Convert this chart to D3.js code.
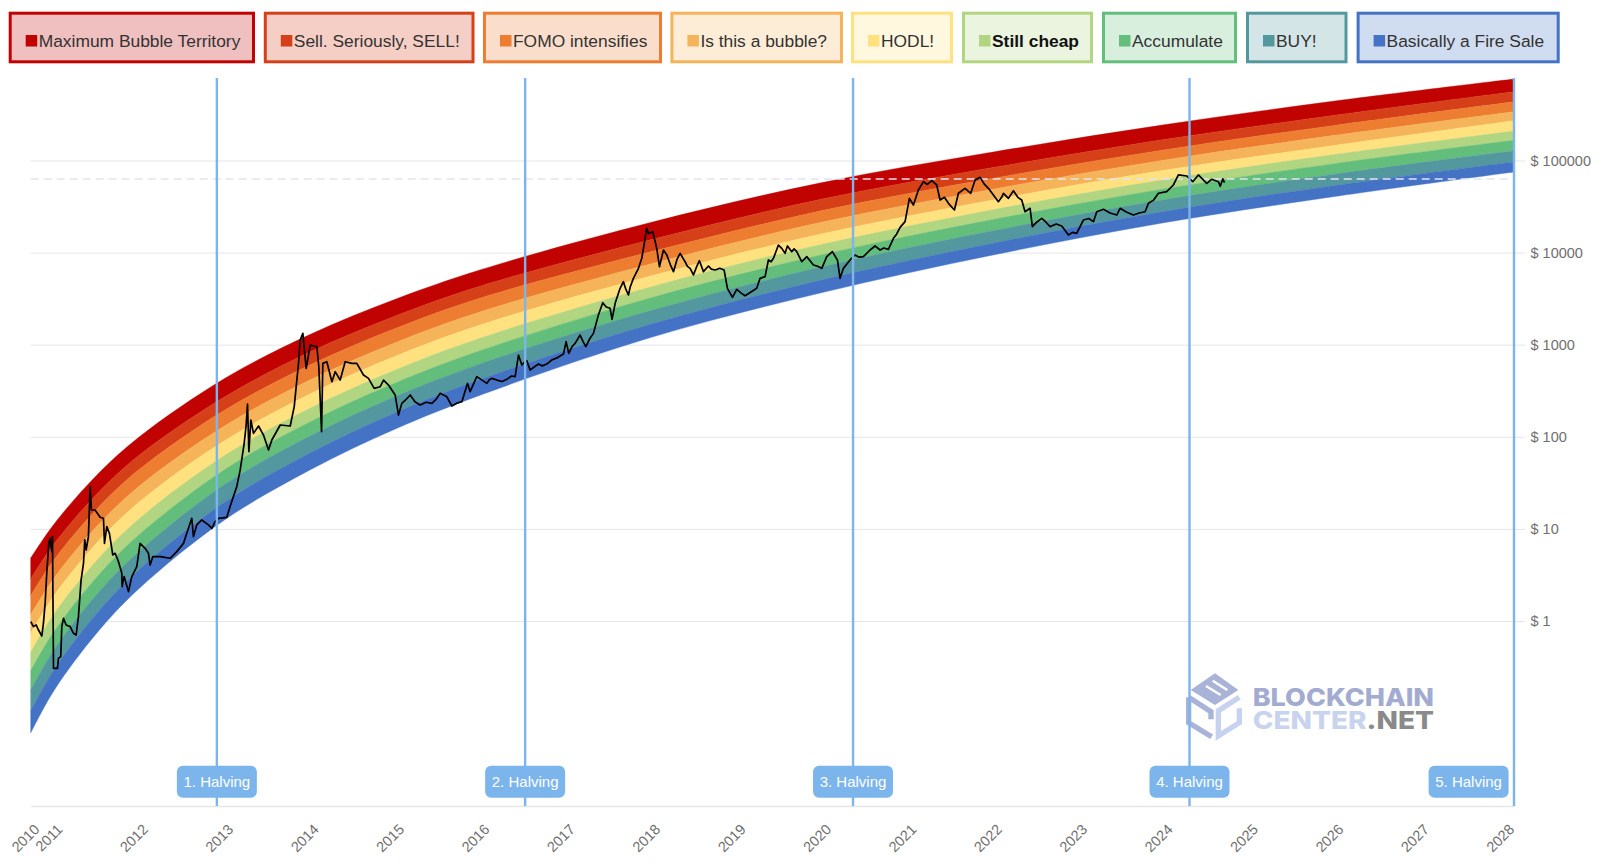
<!DOCTYPE html>
<html>
<head>
<meta charset="utf-8">
<title>Bitcoin Rainbow Chart</title>
<script src="https://cdn.jsdelivr.net/npm/d3@7"></script>
<style>
  body { margin: 0; background: #fff; font-family: "Liberation Sans", Arial, sans-serif; }
  svg { display: block; }
  .grid line { stroke: #e6e6e6; }
  .grid text, .years text { fill: #6f6f6f; font-size: 14.5px; }
</style>
</head>
<body>
<svg></svg>
<script>
//legend text and band colours, top band first
var bandNames = ["Maximum Bubble Territory", "Sell. Seriously, SELL!", "FOMO intensifies", "Is this a bubble?", "HODL!", "Still cheap", "Accumulate", "BUY!", "Basically a Fire Sale"];
var bandColors = ["#c00200", "#d64018", "#ed7d31", "#f6b45a", "#ffe27f", "#b1d580", "#63be7b", "#54989f", "#4472c4"];

var yearTicks = [2010.73, 2011, 2012, 2013, 2014, 2015, 2016, 2017, 2018, 2019, 2020, 2021, 2022, 2023, 2024, 2025, 2026, 2027, 2028];
var priceTicks = [1, 10, 100, 1000, 10000, 100000];

var halvingNames = ["1. Halving", "2. Halving", "3. Halving", "4. Halving", "5. Halving"];
var halvingYears = [2012.91, 2016.52, 2020.36, 2024.30, 2028.10];
var dashedPrice = 63000;

//band edges as log10 of the dollar price
var bandYears = [2010.73, 2011, 2011.5, 2012, 2013, 2014, 2015, 2016, 2018, 2020, 2022, 2024, 2026, 2028.1];
var edge0 = [0.684, 1.049, 1.580, 1.998, 2.633, 3.111, 3.494, 3.814, 4.329, 4.761, 5.092, 5.387, 5.646, 5.885];
var edge1 = [0.456, 0.832, 1.374, 1.800, 2.433, 2.920, 3.311, 3.637, 4.141, 4.582, 4.924, 5.227, 5.491, 5.747];
var edge2 = [0.276, 0.660, 1.211, 1.644, 2.288, 2.780, 3.177, 3.508, 4.011, 4.456, 4.807, 5.115, 5.381, 5.637];
var edge3 = [0.066, 0.461, 1.022, 1.464, 2.118, 2.618, 3.022, 3.358, 3.879, 4.331, 4.689, 5.004, 5.273, 5.530];
var edge4 = [-0.134, 0.271, 0.843, 1.291, 1.957, 2.464, 2.874, 3.216, 3.748, 4.205, 4.572, 4.893, 5.164, 5.432];
var edge5 = [-0.342, 0.072, 0.654, 1.110, 1.796, 2.309, 2.726, 3.073, 3.630, 4.091, 4.466, 4.792, 5.065, 5.321];
var edge6 = [-0.542, -0.118, 0.473, 0.937, 1.642, 2.162, 2.585, 2.937, 3.511, 3.978, 4.359, 4.691, 4.966, 5.220];
var edge7 = [-0.750, -0.317, 0.284, 0.756, 1.481, 2.008, 2.437, 2.794, 3.373, 3.847, 4.237, 4.573, 4.852, 5.105];
var edge8 = [-0.978, -0.534, 0.078, 0.558, 1.289, 1.823, 2.261, 2.624, 3.224, 3.704, 4.102, 4.446, 4.729, 4.985];
var edge9 = [-1.216, -0.760, -0.136, 0.353, 1.097, 1.640, 2.085, 2.454, 3.080, 3.566, 3.974, 4.324, 4.609, 4.875];
var bandEdges = [edge0, edge1, edge2, edge3, edge4, edge5, edge6, edge7, edge8, edge9];

//black price line, also log10 of the dollar price
var priceYears = [
  2010.731, 2010.762, 2010.794, 2010.821, 2010.860, 2010.879, 2010.899, 2010.918, 2010.942, 2010.957, 2010.977, 2010.985, 2010.997,
  2011.043, 2011.055, 2011.082, 2011.094, 2011.114, 2011.145, 2011.192, 2011.231, 2011.262, 2011.289, 2011.320, 2011.348, 2011.363, 2011.379, 2011.406, 2011.426, 2011.441, 2011.484, 2011.543, 2011.582, 2011.594, 2011.621, 2011.652, 2011.691, 2011.719, 2011.758, 2011.797, 2011.801, 2011.824, 2011.875, 2011.914, 2011.972,
  2012.011, 2012.070, 2012.109, 2012.128, 2012.160, 2012.246, 2012.363, 2012.441, 2012.519, 2012.558, 2012.616, 2012.636, 2012.675, 2012.733, 2012.812, 2012.851, 2012.890, 2012.929,
  2013.026, 2013.065, 2013.143, 2013.183, 2013.230, 2013.253, 2013.269, 2013.285, 2013.308, 2013.339, 2013.398, 2013.456, 2013.515, 2013.554, 2013.652, 2013.769, 2013.816, 2013.866, 2013.886, 2013.917, 2013.956,
  2014.003, 2014.081, 2014.104, 2014.136, 2014.151, 2014.198, 2014.257, 2014.296, 2014.354, 2014.413, 2014.491, 2014.549, 2014.627, 2014.686, 2014.752, 2014.823, 2014.862, 2014.920, 2014.998,
  2015.037, 2015.076, 2015.12, 2015.174, 2015.23, 2015.291, 2015.36, 2015.428, 2015.48, 2015.525, 2015.603, 2015.662, 2015.72, 2015.779, 2015.845, 2015.876, 2015.954,
  2016.072, 2016.100, 2016.130, 2016.189, 2016.25, 2016.306, 2016.36, 2016.403, 2016.442, 2016.481, 2016.51, 2016.539, 2016.578, 2016.63, 2016.676, 2016.72, 2016.773, 2016.832, 2016.90, 2016.969,
  2017.000, 2017.031, 2017.07, 2017.105, 2017.164, 2017.20, 2017.230, 2017.28, 2017.320, 2017.378, 2017.429, 2017.47, 2017.515, 2017.538, 2017.574, 2017.632, 2017.671, 2017.70, 2017.730, 2017.749, 2017.788, 2017.847, 2017.886, 2017.944, 2017.964,
  2018.015, 2018.04, 2018.061, 2018.093, 2018.14, 2018.179, 2018.22, 2018.257, 2018.30, 2018.335, 2018.393, 2018.42, 2018.452, 2018.491, 2018.53, 2018.561, 2018.608, 2018.667, 2018.70, 2018.745, 2018.80, 2018.850, 2018.889, 2018.92, 2018.948, 2018.998,
  2019.05, 2019.096, 2019.16, 2019.232, 2019.271, 2019.330, 2019.369, 2019.40, 2019.428, 2019.486, 2019.525, 2019.564, 2019.592, 2019.642, 2019.67, 2019.701, 2019.759, 2019.79, 2019.818, 2019.896, 2019.95, 2019.994,
  2020.052, 2020.118, 2020.177, 2020.208, 2020.247, 2020.325, 2020.384, 2020.43, 2020.481, 2020.559, 2020.618, 2020.677, 2020.72, 2020.774, 2020.833, 2020.87, 2020.911, 2020.969,
  2021.020, 2021.067, 2021.125, 2021.184, 2021.23, 2021.282, 2021.340, 2021.379, 2021.43, 2021.477, 2021.547, 2021.594, 2021.672, 2021.738, 2021.789, 2021.848, 2021.90, 2021.945,
  2022.062, 2022.10, 2022.121, 2022.179, 2022.238, 2022.29, 2022.335, 2022.374, 2022.433, 2022.460, 2022.51, 2022.570, 2022.62, 2022.667, 2022.74, 2022.804, 2022.882, 2022.93, 2022.979,
  2023.058, 2023.12, 2023.175, 2023.214, 2023.292, 2023.37, 2023.448, 2023.487, 2023.56, 2023.643, 2023.71, 2023.780, 2023.819, 2023.88, 2023.936,
  2024.033, 2024.111, 2024.170, 2024.268, 2024.338, 2024.404, 2024.502, 2024.560, 2024.638, 2024.660, 2024.690, 2024.710
];
var priceLogs = [
  -0.007, -0.061, -0.043, -0.098, -0.163, -0.025, 0.192, 0.518, 0.843, 0.898, 0.753, 0.916, -0.514,
  -0.514, -0.405, -0.387, -0.061, 0.029, -0.043, -0.061, -0.134, -0.152, 0.047, 0.445, 0.626, 0.880, 0.771, 0.916, 1.459, 1.205, 1.205, 1.126, 1.115, 0.843, 1.024, 0.952, 0.717, 0.735, 0.644, 0.518, 0.373, 0.482, 0.319, 0.482, 0.590,
  0.843, 0.789, 0.735, 0.608, 0.699, 0.699, 0.681, 0.753, 0.843, 0.952, 1.115, 0.916, 1.043, 1.097, 1.043, 1.006, 1.079, 1.115,
  1.126, 1.242, 1.459, 1.639, 1.929, 2.128, 2.356, 1.838, 2.182, 2.037, 2.117, 2.019, 1.856, 1.965, 2.128, 2.117, 2.327, 2.797, 3.051, 3.123, 2.743,
  2.996, 2.978, 2.761, 2.055, 2.797, 2.815, 2.598, 2.707, 2.616, 2.815, 2.797, 2.797, 2.671, 2.634, 2.526, 2.544, 2.616, 2.562, 2.454,
  2.236, 2.363, 2.40, 2.454, 2.38, 2.345, 2.375, 2.363, 2.41, 2.472, 2.435, 2.334, 2.365, 2.381, 2.580, 2.490, 2.653,
  2.580, 2.62, 2.634, 2.616, 2.60, 2.624, 2.66, 2.653, 2.888, 2.779, 2.81, 2.827, 2.725, 2.76, 2.790, 2.77, 2.790, 2.834, 2.86, 2.899,
  3.033, 2.906, 2.98, 3.015, 3.105, 3.03, 2.979, 3.07, 3.123, 3.322, 3.456, 3.41, 3.395, 3.275, 3.449, 3.612, 3.684, 3.60, 3.540, 3.623, 3.720, 3.829, 3.938, 4.263, 4.209,
  4.227, 4.13, 4.046, 3.847, 4.028, 3.974, 3.87, 3.793, 3.93, 3.992, 3.901, 3.85, 3.829, 3.757, 3.85, 3.912, 3.793, 3.854, 3.82, 3.811, 3.83, 3.811, 3.612, 3.56, 3.514, 3.601,
  3.56, 3.532, 3.57, 3.612, 3.720, 3.739, 3.920, 3.90, 3.938, 4.082, 4.046, 3.992, 4.072, 4.010, 4.04, 4.010, 3.901, 3.93, 3.956, 3.865, 3.85, 3.829,
  3.956, 4.010, 3.920, 3.721, 3.829, 3.920, 3.974, 3.95, 3.956, 4.028, 4.072, 4.028, 4.05, 4.035, 4.155, 4.20, 4.274, 4.336,
  4.589, 4.517, 4.680, 4.770, 4.74, 4.781, 4.734, 4.571, 4.60, 4.535, 4.463, 4.644, 4.698, 4.644, 4.788, 4.817, 4.74, 4.698,
  4.553, 4.60, 4.644, 4.589, 4.672, 4.60, 4.571, 4.444, 4.481, 4.282, 4.33, 4.372, 4.33, 4.282, 4.31, 4.289, 4.191, 4.22, 4.209,
  4.354, 4.37, 4.336, 4.444, 4.470, 4.43, 4.408, 4.481, 4.44, 4.408, 4.43, 4.444, 4.535, 4.57, 4.644,
  4.662, 4.734, 4.843, 4.832, 4.770, 4.843, 4.752, 4.796, 4.770, 4.720, 4.800, 4.760
];

//left and right edge of each legend box, in pixels
var legendLefts = [8.7, 263.8, 483, 670.4, 851, 962, 1102, 1246, 1356.6];
var legendRights = [255, 474.5, 662, 843, 953, 1093, 1237, 1347.5, 1559.7];

var toDollars = function (logValue) {
  return Math.pow(10, logValue);
};

var makeTranslateString = function (x, y) {
  return "translate(" + x + "," + y + ")";
};

var svg = d3.select("svg").attr("width", 1600).attr("height", 862);

var xScale = d3.scaleLinear().domain([2010.73, 2028.1]).range([30.7, 1514]);
var yScale = d3.scaleLog().domain([0.01, 1000000]).range([805.2, 68.4]);

var drawAxes = function () {
  var grid = svg.append("g")
    .attr("class", "grid")
    .attr("transform", makeTranslateString(1525, 0))
    .call(d3.axisRight(yScale)
      .tickValues(priceTicks)
      .tickFormat(function (d) { return "$ " + d; })
      .tickSize(-1494.3)
      .tickPadding(6));
  grid.select(".domain").remove();
  grid.selectAll("text").attr("x", 5.5).attr("font-family", "Liberation Sans");

  var years = svg.append("g")
    .attr("class", "years")
    .attr("transform", makeTranslateString(0, 806))
    .call(d3.axisBottom(xScale)
      .tickValues(yearTicks)
      .tickFormat(function (d) { return Math.floor(d); })
      .tickSize(0));
  years.select(".domain").attr("stroke", "#e6e6e6").attr("stroke-width", 1.5);
  years.selectAll("text")
    .attr("font-family", "Liberation Sans")
    .attr("text-anchor", "end")
    .attr("x", 0)
    .attr("y", 0)
    .attr("dy", "0.32em")
    .attr("transform", "translate(6,21) rotate(-45)");
};

var drawBands = function () {
  var area = d3.area()
    .x(function (d) { return xScale(d.year); })
    .y0(function (d) { return yScale(toDollars(d.low)); })
    .y1(function (d) { return yScale(toDollars(d.high)); })
    .curve(d3.curveCatmullRom.alpha(0.5));

  bandColors.forEach(function (color, band) {
    var points = bandYears.map(function (year, i) {
      return { year: year, high: bandEdges[band][i], low: bandEdges[band + 1][i] };
    });
    svg.append("path")
      .datum(points)
      .attr("fill", color)
      .attr("stroke", color)
      .attr("stroke-width", 0.4)
      .attr("d", area);
  });
};

var drawPrice = function () {
  var line = d3.line()
    .x(function (d) { return xScale(d); })
    .y(function (d, i) { return yScale(toDollars(priceLogs[i])); });

  svg.append("line")
    .attr("x1", 30.7)
    .attr("x2", 1514)
    .attr("y1", yScale(dashedPrice))
    .attr("y2", yScale(dashedPrice))
    .attr("stroke", "#e2e4f2")
    .attr("stroke-width", 1.5)
    .attr("stroke-dasharray", "8,5");

  svg.append("path")
    .attr("fill", "none")
    .attr("stroke", "#000")
    .attr("stroke-width", 1.7)
    .attr("stroke-linejoin", "round")
    .attr("d", line(priceYears));
};

var drawHalvings = function () {
  var halving = svg.selectAll(".halving")
    .data(halvingYears)
    .enter()
    .append("g")
    .attr("class", "halving");

  halving.append("line")
    .attr("x1", function (d) { return xScale(d); })
    .attr("x2", function (d) { return xScale(d); })
    .attr("y1", 78)
    .attr("y2", 806)
    .attr("stroke", "#7cb5ec")
    .attr("stroke-width", 2.4);

  halving.append("rect")
    .attr("x", function (d) { return Math.min(xScale(d) - 40, 1428.6); })
    .attr("y", 765.7)
    .attr("width", 80)
    .attr("height", 32)
    .attr("rx", 6)
    .attr("fill", "#7cb5ec");

  halving.append("text")
    .attr("x", function (d) { return Math.min(xScale(d) - 40, 1428.6) + 40; })
    .attr("y", 787)
    .attr("text-anchor", "middle")
    .attr("fill", "#fff")
    .attr("font-size", 15)
    .text(function (d, i) { return halvingNames[i]; });
};

var drawLegend = function () {
  var entries = svg.selectAll(".entry")
    .data(bandNames)
    .enter()
    .append("g")
    .attr("class", "entry");

  entries.append("rect")
    .attr("x", function (d, i) { return legendLefts[i] + 1.5; })
    .attr("y", 13.2)
    .attr("width", function (d, i) { return legendRights[i] - legendLefts[i] - 3; })
    .attr("height", 48.6)
    .attr("fill", function (d, i) { return bandColors[i]; })
    .attr("fill-opacity", 0.25)
    .attr("stroke", function (d, i) { return bandColors[i]; })
    .attr("stroke-width", 3);

  entries.append("rect")
    .attr("x", function (d, i) { return legendLefts[i] + 17; })
    .attr("y", 35)
    .attr("width", 11.5)
    .attr("height", 11.5)
    .attr("fill", function (d, i) { return bandColors[i]; });

  entries.append("text")
    .attr("x", function (d, i) { return legendLefts[i] + 30; })
    .attr("y", 46.5)
    .attr("font-size", 17.4)
    .attr("font-weight", function (d) { return d === "Still cheap" ? "bold" : "normal"; })
    .attr("fill", function (d) { return d === "Still cheap" ? "#111" : "#333"; })
    .text(function (d) { return d; });
};

//the faded site logo in the lower right corner
var drawWatermark = function () {
  var logo = svg.append("g")
    .attr("transform", "translate(1100,640) scale(0.3333)")
    .attr("fill", "none")
    .attr("stroke-width", 16);

  logo.append("path").attr("stroke", "#a9b3d8").attr("d", "M266,172 V248 L335,290 M266,172 L333,215 V238");
  logo.append("path").attr("stroke", "#c6d2ef").attr("d", "M418,172 L355,212 V288 L418,248 V205");
  logo.append("path").attr("fill", "#a9b3d8").attr("stroke", "none").attr("d", "M345,100 L415,150 L345,195 L272,150 Z");
  logo.append("path").attr("stroke", "#fff").attr("stroke-width", 7).attr("d", "M318,138 L362,165 M338,122 L382,150");

  var text = svg.append("g")
    .attr("font-family", "Inter")
    .attr("font-weight", 800)
    .attr("font-size", 25);
  text.append("text")
    .attr("x", 1252.7)
    .attr("y", 705.7)
    .attr("fill", "#a3acd0")
    .attr("textLength", 181.3)
    .attr("lengthAdjust", "spacingAndGlyphs")
    .text("BLOCKCHAIN");
  var second = text.append("text")
    .attr("x", 1252.7)
    .attr("y", 729.3)
    .attr("textLength", 181.3)
    .attr("lengthAdjust", "spacingAndGlyphs");
  second.append("tspan").attr("fill", "#c8d3ee").text("CENTER");
  second.append("tspan").attr("fill", "#8a8a8a").text(".NET");
};

drawAxes();
drawBands();
drawWatermark();
drawPrice();
drawHalvings();
drawLegend();
</script>
</body>
</html>
